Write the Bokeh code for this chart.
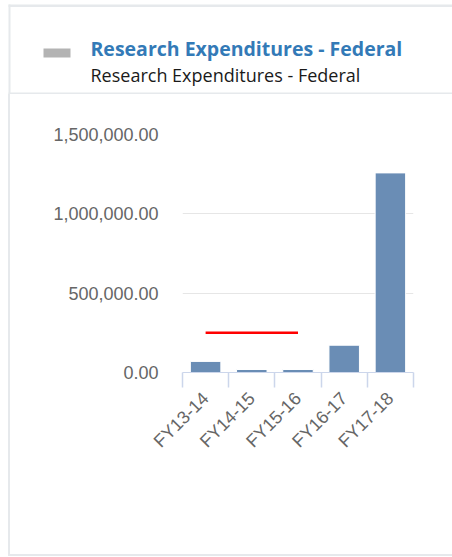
import math
from bokeh.plotting import figure
from bokeh.layouts import column
from bokeh.models import FixedTicker, NumeralTickFormatter, Range1d
from bokeh.core.properties import value
from bokeh.embed import file_html
from bokeh.resources import INLINE

# ---- data ----
categories = ["FY13-14", "FY14-15", "FY15-16", "FY16-17", "FY17-18"]
federal = [70000, 19000, 19000, 172000, 1258000]
target = [250000, 250000, 250000, float("nan"), float("nan")]
y_ticks = [0, 500000, 1000000, 1500000]
title_text = "Research Expenditures - Federal"
subtitle_text = "Research Expenditures - Federal"

W = 452
HEAD_H = 94
CHART_H = 557 - HEAD_H
BORDER = "#e6e9ec"

# ---- header (card title + legend) ----
h = figure(frame_width=W, frame_height=HEAD_H, frame_align=False,
           min_border_left=0, min_border_right=0, min_border_top=0, min_border_bottom=0,
           x_range=Range1d(0, W), y_range=Range1d(HEAD_H, 0),
           x_axis_type=None, y_axis_type=None,
           output_backend="svg", toolbar_location=None)
h.outline_line_color = None
h.grid.visible = False
h.background_fill_color = "white"
h.border_fill_color = "white"
# card borders: top, left, divider
h.quad(left=[8, 8, 8], right=[W, 10, W], top=[4, 4, 92], bottom=[6.5, HEAD_H, 94],
       fill_color=BORDER, line_color=None)
# legend swatch
h.quad(left=[43], right=[70], top=[48], bottom=[57], fill_color="#b3b3b3", line_color=None)
h.text(x=[90], y=[47.5], text=[title_text], text_font=value("Open Sans"),
       text_font_size="19.5px", text_font_style="bold", text_color="#337ab7",
       text_baseline="alphabetic")
h.text(x=[90], y=[74], text=[subtitle_text], text_font=value("Open Sans"),
       text_font_size="18px", text_color="#1a1a1a", text_baseline="alphabetic")

# ---- chart ----
xs = [i + 0.5 for i in range(len(categories))]
bounds = list(range(len(categories) + 1))

p = figure(frame_width=231, frame_height=238, frame_align=False,
           min_border_left=182, min_border_right=39,
           min_border_top=40, min_border_bottom=CHART_H - 40 - 238,
           x_range=Range1d(0, len(categories)), y_range=Range1d(0, y_ticks[-1]),
           output_backend="svg", toolbar_location=None)
p.outline_line_color = None
p.background_fill_color = None
p.border_fill_color = None
p.styles = {
    "background-image": "linear-gradient(%s, %s), linear-gradient(%s, %s)" % (BORDER, BORDER, BORDER, BORDER),
    "background-size": "2px %dpx, %dpx 2px" % (CHART_H - 3, W - 8),
    "background-position": "8px 0px, 8px %dpx" % (CHART_H - 3),
    "background-repeat": "no-repeat",
    "background-color": "white",
}

p.xgrid.visible = False
p.ygrid.grid_line_color = "#e6e6e6"
p.ygrid.ticker = FixedTicker(ticks=y_ticks)

yax = p.yaxis[0]
yax.ticker = FixedTicker(ticks=y_ticks)
yax.formatter = NumeralTickFormatter(format="0,0.00")
yax.axis_line_color = None
yax.major_tick_line_color = None
yax.minor_tick_line_color = None
yax.major_tick_out = 0
yax.major_label_standoff = 24
yax.major_label_text_font = "Liberation Sans"
yax.major_label_text_font_size = "18px"
yax.major_label_text_color = "#666666"

xax = p.xaxis[0]
xax.ticker = FixedTicker(ticks=xs, minor_ticks=bounds)
xax.major_label_overrides = {x: c for x, c in zip(xs, categories)}
xax.axis_line_color = "#ccd6eb"
xax.major_tick_line_color = None
xax.major_tick_out = 0
xax.major_tick_in = 0
xax.minor_tick_line_color = "#ccd6eb"
xax.minor_tick_line_width = 1.5
xax.minor_tick_out = 15
xax.minor_tick_in = 0
xax.major_label_orientation = math.pi / 4
xax.major_label_standoff = 8
xax.major_label_text_font = "Liberation Sans"
xax.major_label_text_font_size = "18px"
xax.major_label_text_color = "#666666"

p.vbar(x=xs, top=federal, width=0.66, fill_color="#6a8db5", line_color="white", line_width=1)
p.line(x=xs, y=target, line_color="#ff0000", line_width=2.5)

layout = column(h, p, spacing=0)
open("out.html", "w").write(file_html(layout, INLINE))
